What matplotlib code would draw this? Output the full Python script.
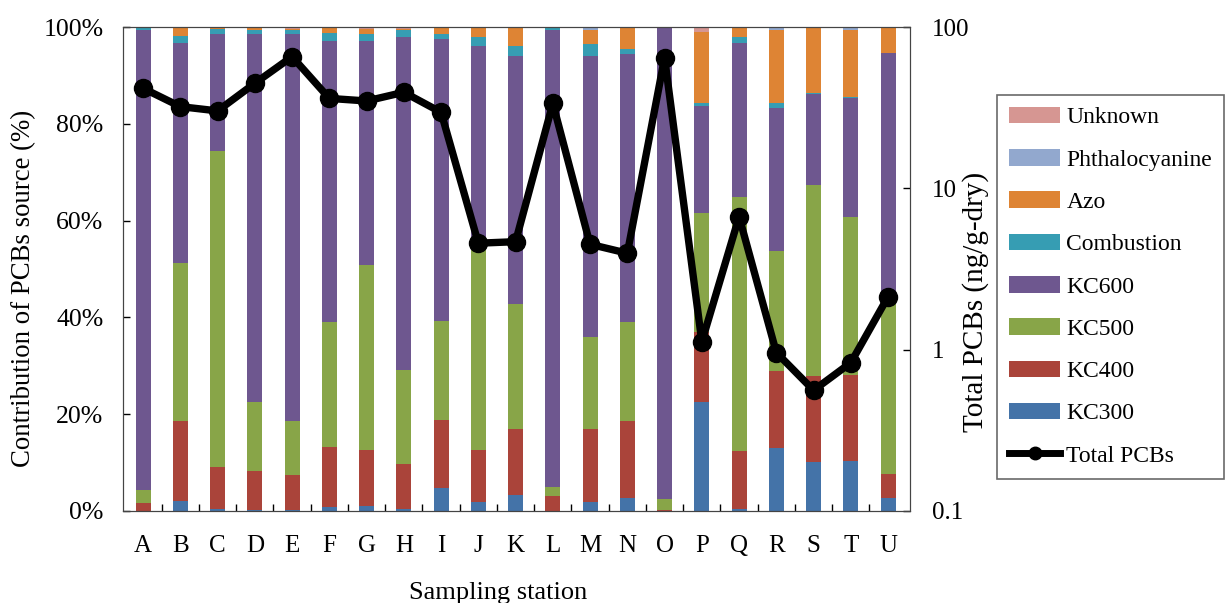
import matplotlib
matplotlib.use("Agg")
import matplotlib.pyplot as plt
import numpy as np
from matplotlib.patches import Patch
from matplotlib.lines import Line2D
from matplotlib.ticker import FixedLocator, FuncFormatter, NullLocator

plt.rcParams['font.family'] = ['Liberation Serif', 'DejaVu Serif']

stations = ["A", "B", "C", "D", "E", "F", "G", "H", "I", "J", "K",
            "L", "M", "N", "O", "P", "Q", "R", "S", "T", "U"]

kc300 = [0, 2.1, 0.4, 0.3, 0.3, 0.8, 1.1, 0.5, 4.8, 1.9, 3.2,
         0, 1.9, 2.6, 0, 22.5, 0.5, 13.0, 10.1, 10.4, 2.7]
kc400 = [1.6, 16.5, 8.7, 8.0, 7.1, 12.5, 11.4, 9.3, 14.0, 10.6, 13.8,
         3.0, 15.1, 16.0, 0.2, 14.5, 11.8, 15.9, 17.8, 17.8, 5.0]
kc500 = [2.7, 32.6, 65.3, 14.2, 11.2, 25.7, 38.4, 19.3, 20.5, 44.2, 25.7,
         2.0, 19.0, 20.4, 2.3, 24.5, 52.6, 24.9, 39.5, 32.6, 36.2]
kc600 = [95.1, 45.4, 24.2, 76.1, 80.0, 58.2, 46.3, 68.9, 58.2, 39.4, 51.4,
         94.4, 58.1, 55.4, 97.2, 22.2, 31.7, 29.4, 18.8, 24.6, 50.7]
combustion = [0.6, 1.6, 1.0, 0.8, 0.7, 1.6, 1.3, 1.3, 1.0, 1.9, 2.0,
              0.3, 2.3, 1.0, 0, 0.5, 1.4, 1.0, 0.2, 0.2, 0]
azo = [0, 1.7, 0.4, 0.5, 0.2, 1.2, 1.0, 0.2, 1.4, 1.9, 3.8,
       0.3, 3.0, 4.3, 0.3, 14.8, 2.0, 15.2, 13.3, 13.8, 5.4]
phthalocyanine = [0, 0, 0, 0, 0, 0, 0, 0, 0, 0, 0,
                  0, 0.3, 0, 0, 0, 0, 0.3, 0.2, 0.3, 0]
unknown = [0, 0.1, 0, 0.1, 0.5, 0, 0.5, 0.5, 0.1, 0.1, 0.1,
           0, 0.3, 0.3, 0, 1.0, 0, 0.3, 0.1, 0.3, 0]

total_pcbs = [41.7, 32.1, 30.2, 44.8, 65.5, 36.1, 34.8, 39.4, 29.6, 4.57, 4.67,
              33.6, 4.50, 3.96, 64.5, 1.12, 6.67, 0.96, 0.56, 0.83, 2.13]

series = [("KC300", kc300, "#4473A8"),
          ("KC400", kc400, "#AA443A"),
          ("KC500", kc500, "#88A548"),
          ("KC600", kc600, "#6E578F"),
          ("Combustion", combustion, "#369DB3"),
          ("Azo", azo, "#DE8434"),
          ("Phthalocyanine", phthalocyanine, "#92A8CE"),
          ("Unknown", unknown, "#D69692")]

fig = plt.figure(figsize=(12.26, 6.03), dpi=100)
ax = fig.add_axes([0.1003, 0.1526, 0.6420, 0.8026])
x = np.arange(len(stations))
bottom = np.zeros(len(stations))
for name, vals, col in series:
    v = np.array(vals, dtype=float)
    ax.bar(x, v, 0.40, bottom=bottom, color=col, label=name, zorder=2)
    bottom += v

ax.set_xlim(-0.54, 20.59)
ax.set_ylim(0, 100)
ax.set_yticks([0, 20, 40, 60, 80, 100])
ax.yaxis.set_major_formatter(FuncFormatter(lambda v, p: f"{int(v)}%"))
ax.set_xticks(x)
ax.set_xticklabels(stations)
ax.xaxis.set_minor_locator(FixedLocator(x[:-1] + 0.5))
ax.tick_params(axis='x', which='major', length=0, pad=17, labelsize=18)
ax.tick_params(axis='x', which='minor', direction='in', length=5, width=1)
ax.tick_params(axis='y', direction='in', length=5, width=1, pad=14, labelsize=18.5)
ax.set_ylabel("Contribution of PCBs source (%)", fontsize=19.3)
ax.yaxis.set_label_coords(-0.1105, 0.459)
ax.set_xlabel("Sampling station", fontsize=19)
ax.xaxis.set_label_coords(0.477, -0.146)
for s in ax.spines.values():
    s.set_color("#444444")

ax2 = ax.twinx()
ax2.set_yscale('log')
ax2.set_ylim(0.1, 100)
ax2.plot(x, total_pcbs, color='black', lw=5.3, marker='o', ms=13, zorder=3)
ax2.yaxis.set_major_locator(FixedLocator([0.1, 1, 10, 100]))
ax2.yaxis.set_minor_locator(NullLocator())
ax2.yaxis.set_major_formatter(FuncFormatter(lambda v, p: f"{v:g}"))
ax2.tick_params(axis='y', direction='in', length=5, width=1, pad=16, labelsize=18)
ax2.set_ylabel("Total PCBs (ng/g-dry)", fontsize=21)
ax2.yaxis.set_label_coords(1.066, 0.431)
for s in ax2.spines.values():
    s.set_color("#444444")

handles = [Patch(facecolor=col, label=name) for name, vals, col in series][::-1]
handles.append(Line2D([0], [0], color='black', lw=5, marker='o', ms=9, label="Total PCBs"))
leg = fig.legend(handles=handles, loc='upper left', bbox_to_anchor=(0.813, 0.8425),
                 fontsize=17, frameon=True, fancybox=False, edgecolor='#444444',
                 labelspacing=0.88, handlelength=2.2, handletextpad=0.25,
                 borderpad=0.5, borderaxespad=0)
leg.get_frame().set_linewidth(1.2)

fig.savefig("out.png", dpi=100)
